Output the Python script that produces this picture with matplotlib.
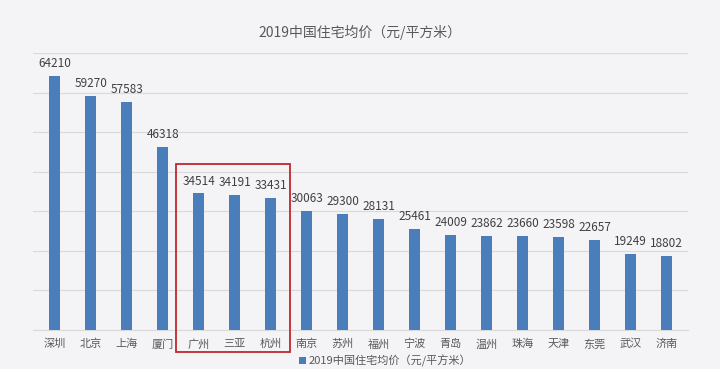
import numpy as np
from matplotlib import pyplot as plt
from matplotlib.patches import Rectangle

plt.rcParams['font.family'] = ['Noto Sans CJK SC', 'DejaVu Sans']

cities = ["深圳", "北京", "上海", "厦门", "广州", "三亚", "杭州", "南京", "苏州", "福州",
          "宁波", "青岛", "温州", "珠海", "天津", "东莞", "武汉", "济南"]
prices = [64210, 59270, 57583, 46318, 34514, 34191, 33431, 30063, 29300, 28131,
          25461, 24009, 23862, 23660, 23598, 22657, 19249, 18802]
series_name = "2019中国住宅均价（元/平方米）"

fig = plt.figure(figsize=(7.2, 3.69), dpi=100)
fig.patch.set_facecolor("#f4f4f6")
ax = fig.add_axes([0.046, 0.106, 0.91, 0.75])
ax.set_facecolor("none")

x = np.arange(len(cities))
bars = ax.bar(x, prices, width=0.3, color="#4a7ebb", label=series_name, zorder=3)
for xi, v in zip(x, prices):
    ax.text(xi, v + 1500, str(v), ha="center", va="bottom", fontsize=8.5, color="#404040")

ax.set_ylim(0, 70000)
ax.set_xlim(-0.6, len(cities) - 0.4)
ax.set_yticks(np.arange(0, 70001, 10000))
ax.yaxis.grid(True, color="#d9d9d9", linewidth=0.8, zorder=0)
ax.tick_params(axis="y", left=False, labelleft=False)
ax.tick_params(axis="x", bottom=False, labelsize=8, labelcolor="#595959", pad=3)
ax.set_xticks(x)
ax.set_xticklabels(cities)
for s in ["top", "right", "left"]:
    ax.spines[s].set_visible(False)
ax.spines["bottom"].set_color("#d9d9d9")

fig.text(0.5, 0.913, series_name, ha="center", va="center", fontsize=10, color="#595959")

leg = fig.legend(handles=[bars], labels=[series_name], loc="center", bbox_to_anchor=(0.535, 0.022),
                 frameon=False, fontsize=8, handlelength=0.6, handleheight=0.6, handletextpad=0.3)
for t in leg.get_texts():
    t.set_color("#595959")

# highlight box round 广州 / 三亚 / 杭州
fig.patches.append(Rectangle((176 / 720, 1 - 352 / 369), 114 / 720, 188 / 369,
                             transform=fig.transFigure, fill=False, edgecolor="#c0272d", linewidth=1.3))

fig.savefig("out.png", dpi=100, facecolor=fig.get_facecolor())
